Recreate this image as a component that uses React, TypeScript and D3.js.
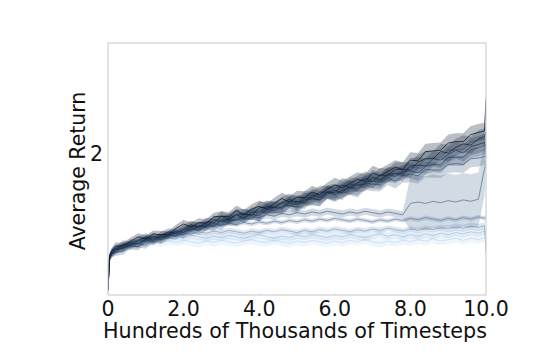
import React from "react";
import * as d3 from "d3";

// x positions (hundreds of thousands of timesteps)
const X = [0,0.04,0.1,0.2,0.4,0.6,0.8,1,1.2,1.4,1.6,1.8,2,2.2,2.4,2.6,2.8,3,3.2,3.4,3.6,3.8,4,4.2,4.4,4.6,4.8,5,5.2,5.4,5.6,5.8,6,6.2,6.4,6.6,6.8,7,7.2,7.4,7.6,7.8,8,8.2,8.4,8.6,8.8,9,9.2,9.4,9.6,9.8,9.96,10];

// mean returns per run (lightest to darkest)
const L1 = [0.1,0.55,0.62,0.66,0.69,0.71,0.74,0.73,0.75,0.73,0.76,0.74,0.77,0.75,0.73,0.76,0.74,0.77,0.75,0.73,0.76,0.78,0.75,0.74,0.77,0.75,0.73,0.76,0.74,0.77,0.75,0.73,0.76,0.74,0.77,0.75,0.78,0.75,0.73,0.76,0.74,0.77,0.75,0.78,0.76,0.79,0.76,0.78,0.80,0.77,0.80,0.78,0.81,0.80];
const L2 = [0.09,0.52,0.6,0.65,0.71,0.71,0.76,0.78,0.77,0.81,0.80,0.83,0.81,0.84,0.82,0.80,0.83,0.81,0.84,0.82,0.80,0.83,0.85,0.82,0.80,0.83,0.81,0.84,0.82,0.85,0.83,0.81,0.84,0.82,0.85,0.83,0.81,0.84,0.86,0.83,0.85,0.82,0.85,0.83,0.86,0.84,0.87,0.85,0.88,0.86,0.89,0.87,0.90,0.88];
const L3 = [0.1,0.54,0.6,0.63,0.69,0.73,0.74,0.78,0.79,0.82,0.84,0.83,0.87,0.86,0.89,0.87,0.90,0.88,0.91,0.89,0.87,0.90,0.88,0.91,0.89,0.92,0.90,0.88,0.91,0.89,0.92,0.90,0.93,0.91,0.89,0.92,0.90,0.93,0.91,0.94,0.92,0.90,0.93,0.91,0.94,0.92,0.95,0.93,0.96,0.94,0.97,0.95,0.98,0.60];
const L4 = [0.1,0.55,0.61,0.66,0.68,0.73,0.74,0.79,0.80,0.82,0.86,0.87,0.91,0.92,0.96,0.95,0.99,0.98,1.01,0.99,1.02,1.00,1.03,1.01,1.04,1.02,1.05,1.03,1.06,1.04,1.07,1.05,1.08,1.06,1.04,1.07,1.05,1.03,1.06,1.04,1.07,1.05,1.08,1.06,1.09,1.07,1.05,1.08,1.06,1.09,1.07,1.10,1.08,1.09];
const L5 = [0.09,0.53,0.6,0.63,0.69,0.71,0.76,0.76,0.81,0.81,0.85,0.88,0.89,0.93,0.94,0.98,0.98,1.02,1.03,1.07,1.06,1.10,1.09,1.13,1.11,1.15,1.13,1.16,1.14,1.17,1.15,1.18,1.16,1.14,1.17,1.15,1.18,1.16,1.14,1.17,1.15,1.13,1.29,1.31,1.29,1.32,1.30,1.33,1.31,1.34,1.32,1.35,1.78,1.85];
const D5 = [0.08,0.52,0.58,0.60,0.62,0.70,0.72,0.70,0.79,0.77,0.83,0.87,0.85,0.94,0.91,0.97,1.01,0.98,1.08,1.05,1.10,1.14,1.12,1.21,1.19,1.25,1.26,1.24,1.34,1.35,1.34,1.44,1.41,1.47,1.51,1.47,1.58,1.56,1.56,1.65,1.60,1.68,1.70,1.68,1.77,1.76,1.76,1.84,1.85,1.84,1.92,1.93,1.95,1.96];
const D4 = [0.07,0.53,0.59,0.62,0.67,0.69,0.68,0.78,0.75,0.82,0.84,0.83,0.92,0.90,0.97,0.99,0.96,1.06,1.05,1.05,1.14,1.13,1.12,1.21,1.23,1.21,1.30,1.27,1.34,1.36,1.34,1.45,1.42,1.48,1.52,1.50,1.60,1.60,1.59,1.70,1.67,1.74,1.75,1.72,1.81,1.84,1.83,1.94,1.94,1.94,2.05,2.07,2.10,2.12];
const D3 = [0.08,0.5,0.6,0.65,0.65,0.74,0.72,0.78,0.83,0.78,0.85,0.90,0.88,0.97,0.97,0.96,1.06,1.03,1.08,1.13,1.08,1.17,1.15,1.25,1.24,1.23,1.32,1.32,1.30,1.41,1.38,1.45,1.47,1.44,1.55,1.55,1.56,1.66,1.62,1.70,1.71,1.71,1.82,1.83,1.82,1.92,1.90,1.98,2.04,2.00,2.09,2.12,2.15,2.05];
const D2 = [0.07,0.52,0.58,0.63,0.72,0.70,0.77,0.82,0.77,0.84,0.89,0.87,0.93,0.99,0.95,1.03,1.02,1.11,1.06,1.14,1.14,1.12,1.23,1.24,1.23,1.30,1.35,1.29,1.37,1.37,1.45,1.45,1.44,1.55,1.51,1.58,1.64,1.60,1.69,1.68,1.77,1.77,1.76,1.87,1.92,1.92,2.02,2.00,2.08,2.13,2.11,2.20,2.23,2.30];
const D1 = [0.06,0.55,0.62,0.69,0.69,0.76,0.82,0.79,0.86,0.85,0.85,0.94,1.00,0.96,1.02,1.01,1.10,1.11,1.10,1.19,1.13,1.21,1.25,1.21,1.29,1.36,1.31,1.38,1.37,1.45,1.41,1.49,1.55,1.51,1.57,1.63,1.60,1.72,1.68,1.74,1.80,1.77,1.90,1.89,2.02,2.03,2.04,2.14,2.16,2.16,2.26,2.29,2.31,2.75];

// spread (std) per unit interval of x: [0,1), [1,2), ... [9,10), 10
const SD_L1 = [0.05,0.05,0.06,0.06,0.06,0.06,0.06,0.06,0.06,0.06,0.06];
const SD_L2 = [0.04,0.05,0.05,0.05,0.05,0.05,0.05,0.05,0.05,0.05,0.05];
const SD_L3 = [0.04,0.04,0.04,0.04,0.04,0.04,0.04,0.04,0.04,0.05,0.05];
const SD_L4 = [0.03,0.03,0.03,0.03,0.03,0.03,0.03,0.03,0.03,0.03,0.03];
const SD_L5 = [0.04,0.04,0.04,0.04,0.05,0.05,0.05,0.05,0.38,0.38,0.05];
const SD_D = [0.05,0.05,0.06,0.07,0.08,0.09,0.10,0.10,0.11,0.12,0.12];

const X_TICKS = [0, 2, 4, 6, 8, 10];
const X_TICK_LABELS = ["0", "2.0", "4.0", "6.0", "8.0", "10.0"];
const Y_TICKS = [2];
const Y_TICK_LABELS = ["2"];

const RUNS = [
  { mean: L1, sd: SD_L1 },
  { mean: L2, sd: SD_L2 },
  { mean: L3, sd: SD_L3 },
  { mean: L4, sd: SD_L4 },
  { mean: L5, sd: SD_L5 },
  { mean: D5, sd: SD_D },
  { mean: D4, sd: SD_D },
  { mean: D3, sd: SD_D },
  { mean: D2, sd: SD_D },
  { mean: D1, sd: SD_D },
];
const COLORS = ["#c3daf0", "#a6c4e1", "#88a7c8", "#7290b1", "#5e7b9c", "#4b6687", "#3a5373", "#2b405d", "#1c2f48", "#0c1a2f"];

const W = 540, H = 360;
const M = { left: 108, right: 486, top: 43, bottom: 295 };
const FONT = "'DejaVu Sans', sans-serif";

export default function App() {
  const x = d3.scaleLinear().domain([0, 10]).range([M.left, M.right]);
  const y = d3.scaleLinear().domain([0, 3.55]).range([M.bottom, M.top]);

  const series = RUNS.map((r) =>
    X.map((xv, i) => {
      const s = r.sd[Math.min(Math.floor(xv), 10)];
      return { x: xv, m: r.mean[i], lo: r.mean[i] - s, hi: r.mean[i] + s };
    })
  );
  const line = d3.line<any>().x((d) => x(d.x)).y((d) => y(d.m));
  const area = d3.area<any>().x((d) => x(d.x)).y0((d) => y(d.lo)).y1((d) => y(d.hi));

  return (
    <svg width={W} height={H} style={{ position: "absolute", left: 0, top: 0, background: "#fff" }}>
      <defs>
        <clipPath id="plot">
          <rect x={M.left} y={M.top} width={M.right - M.left} height={M.bottom - M.top} />
        </clipPath>
      </defs>
      <g clipPath="url(#plot)">
        {series.map((s, i) => (
          <g key={i}>
            <path d={area(s) || ""} fill={COLORS[i]} fillOpacity={0.28} stroke="none" />
            <path d={line(s) || ""} fill="none" stroke={COLORS[i]} strokeWidth={0.8} />
          </g>
        ))}
      </g>
      <rect x={M.left} y={M.top} width={M.right - M.left} height={M.bottom - M.top} fill="none" stroke="#cccccc" strokeWidth={1.1} />
      {X_TICKS.map((t, i) => (
        <g key={t}>
          <line x1={x(t)} x2={x(t)} y1={M.bottom} y2={M.bottom - 2} stroke="#dddddd" />
          <text x={x(t)} y={316} textAnchor="middle" fontFamily={FONT} fontSize={20.5} fill="#111">
            {X_TICK_LABELS[i]}
          </text>
        </g>
      ))}
      {Y_TICKS.map((t, i) => (
        <text key={t} x={103} y={y(t) + 7.5} textAnchor="end" fontFamily={FONT} fontSize={20.5} fill="#111">
          {Y_TICK_LABELS[i]}
        </text>
      ))}
      <text x={(M.left + M.right) / 2 - 2} y={338} textAnchor="middle" fontFamily={FONT} fontSize={20.7} fill="#111">
        Hundreds of Thousands of Timesteps
      </text>
      <text transform={`translate(85,${(M.top + M.bottom) / 2 + 2}) rotate(-90)`} textAnchor="middle" fontFamily={FONT} fontSize={20.5} fill="#111">
        Average Return
      </text>
    </svg>
  );
}
